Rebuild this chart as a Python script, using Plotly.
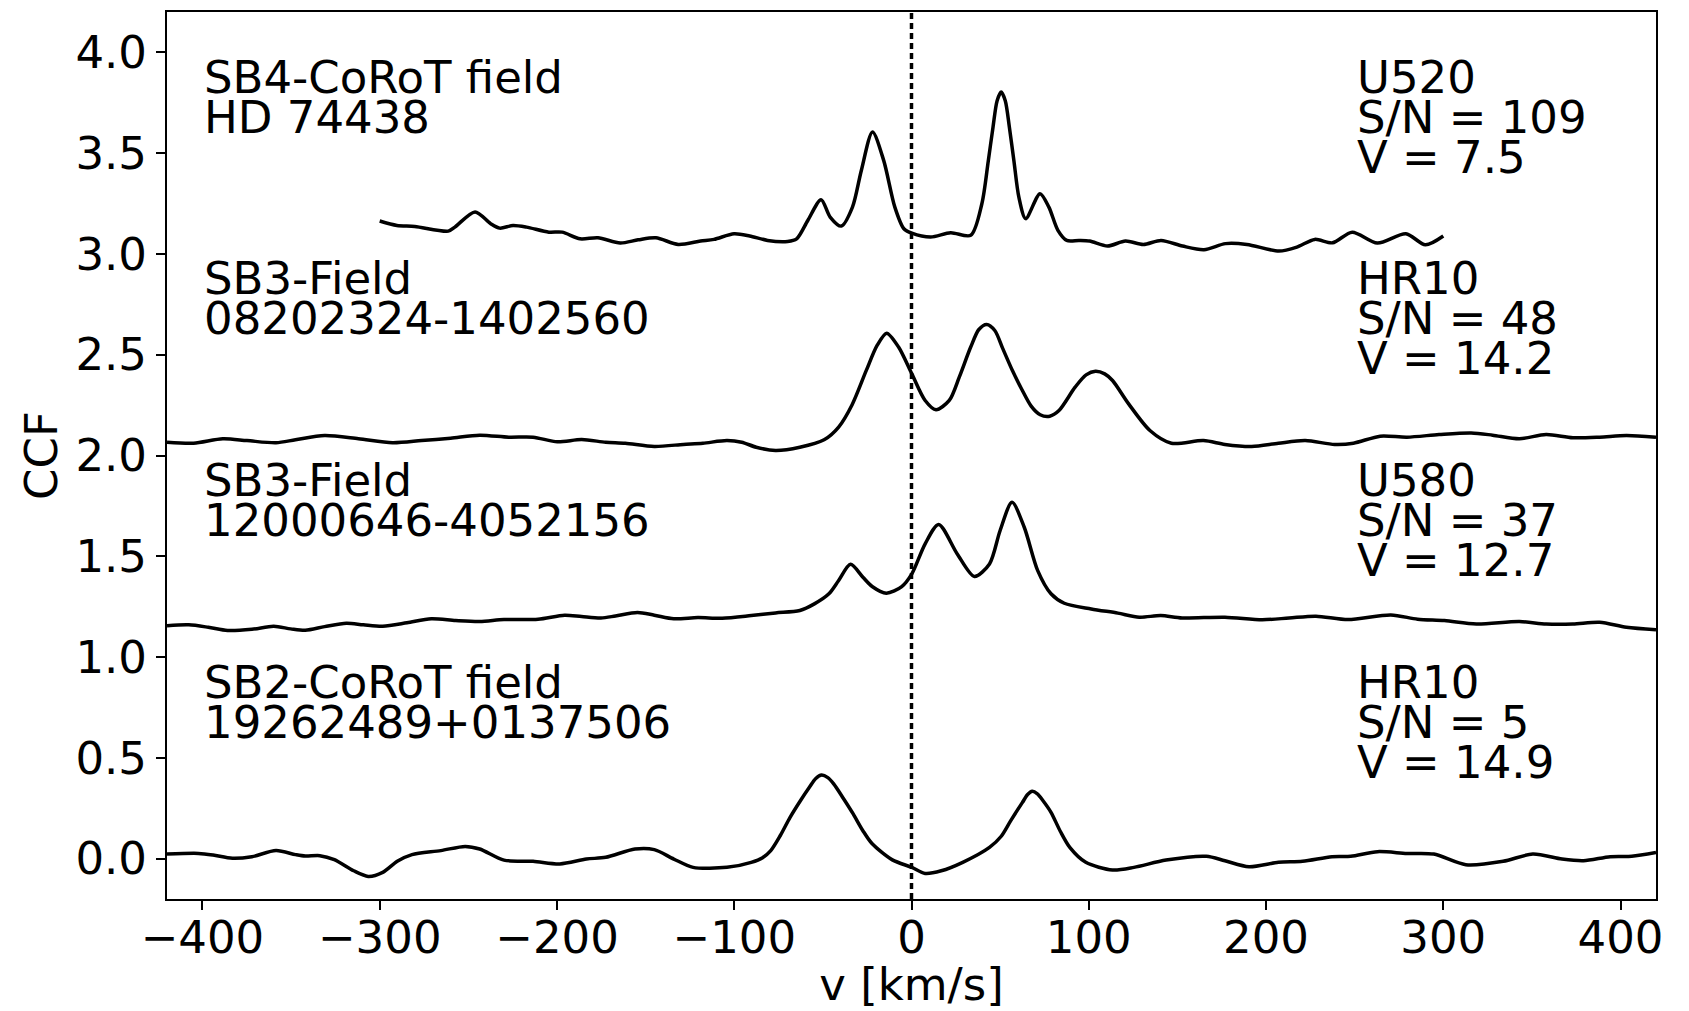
import plotly.graph_objects as go

# ---------------- data ----------------
v_sb4 = [-300, -290.3, -280.2, -261.3, -257.6, -246.2, -237.4, -232.3, -224.8, -217.2,
         -204.6, -197.1, -187, -176.9, -164.3, -154.2, -144.2, -131.6, -119, -111.4,
         -100.1, -91.3, -81.2, -69.9, -64.8, -58.5, -51, -45.9, -39.6, -33.3,
         -28.3, -22, -15.7, -9.4, -4.3, 0.2, 10.8, 22.1, 33.4, 39.7,
         43.3, 46, 48.3, 50.6, 52.9, 55.2, 57.8, 60.6, 64.4, 72.5, 77.5,
         82.6, 87.6, 94.5, 100.5, 110.6, 120.7, 130.8, 140.8, 152.9, 165,
         177.1, 189.2, 207.3, 217.4, 227.5, 237.5, 248.6, 262.8, 278.9, 289.9, 300]
ccf_sb4 = [3.163, 3.141, 3.136, 3.113, 3.133, 3.208, 3.150, 3.128, 3.141, 3.133,
           3.108, 3.108, 3.075, 3.080, 3.054, 3.070, 3.080, 3.047, 3.064, 3.072,
           3.100, 3.089, 3.067, 3.062, 3.075, 3.166, 3.269, 3.183, 3.138, 3.232,
           3.414, 3.605, 3.464, 3.232, 3.125, 3.103, 3.084, 3.105, 3.092, 3.249,
           3.460, 3.630, 3.760, 3.803, 3.760, 3.630, 3.460, 3.280, 3.175, 3.299, 3.232,
           3.117, 3.067, 3.067, 3.064, 3.039, 3.064, 3.047, 3.067, 3.039, 3.021,
           3.051, 3.047, 3.014, 3.034, 3.072, 3.055, 3.108, 3.054, 3.100, 3.045, 3.089]

v_sb3a = [-420, -405, -388.5, -374.9, -358.5, -347.5, -331.1, -312, -292.8, -276.4,
          -260, -243.6, -227.2, -213.5, -199.8, -186.1, -172.5, -161.5, -145.1, -128.7,
          -117.7, -104.1, -95.8, -87.6, -76.7, -63, -49.3, -41.1, -33.5, -25.5,
          -19.4, -14, -7.3, 0.2, 7.7, 13.8, 21.3, 27, 33.4, 38, 42.4, 47, 51.5,
          57, 62.1, 67.5, 72.6, 78, 83.2, 92.3, 98.5, 103.8, 109, 113.4, 122.5, 134.5, 146.6, 164.7,
          176.8, 191.9, 207, 222.1, 238.7, 249.3, 264.4, 279.5, 297.6, 315.7,
          327.8, 342.9, 358, 373.1, 388.2, 403.3, 420]
ccf_sb3a = [2.066, 2.061, 2.083, 2.074, 2.063, 2.078, 2.099, 2.083, 2.063, 2.074,
            2.086, 2.101, 2.091, 2.091, 2.068, 2.079, 2.066, 2.061, 2.045, 2.055,
            2.061, 2.074, 2.066, 2.041, 2.025, 2.041, 2.078, 2.141, 2.252, 2.422,
            2.546, 2.607, 2.538, 2.405, 2.273, 2.227, 2.273, 2.390, 2.538, 2.625, 2.650, 2.620, 2.530,
            2.420, 2.330, 2.245, 2.202, 2.195, 2.223, 2.339, 2.400, 2.418, 2.405, 2.372, 2.256, 2.124, 2.061, 2.074,
            2.055, 2.045, 2.061, 2.074, 2.055, 2.061, 2.096, 2.091, 2.104, 2.112,
            2.101, 2.083, 2.104, 2.088, 2.091, 2.099, 2.091]

v_sb3b = [-420, -407.7, -396.7, -385.8, -372.1, -359.8, -350.2, -342, -331.1, -318.8,
          -309.2, -298.3, -284.6, -270.9, -257.2, -243.6, -229.9, -210.7, -195.7, -186.1,
          -175.2, -167, -154.6, -145.1, -134.1, -120.5, -106.8, -90.4, -76.7, -63,
          -54.8, -46.6, -41.1, -34.4, -27.4, -22.2, -14.2, -5.5, 0.2, 7.7,
          15.3, 25.8, 35.5, 44, 50, 56.7, 63.6, 71.2, 78.7, 86.2,
          101.4, 116.4, 128.5, 140.6, 152.7, 176.8, 197.9, 213, 228.2, 246.3,
          270.4, 285.5, 300.6, 318.7, 342.9, 358, 373.1, 388.2, 403.3, 420]
ccf_sb3b = [1.156, 1.160, 1.148, 1.132, 1.138, 1.153, 1.140, 1.133, 1.151, 1.168,
            1.160, 1.153, 1.170, 1.190, 1.181, 1.176, 1.186, 1.188, 1.208, 1.201,
            1.194, 1.204, 1.221, 1.208, 1.190, 1.196, 1.193, 1.206, 1.219, 1.231,
            1.264, 1.314, 1.380, 1.460, 1.396, 1.350, 1.317, 1.350, 1.413, 1.562,
            1.658, 1.512, 1.400, 1.462, 1.628, 1.768, 1.644, 1.429, 1.314, 1.267,
            1.239, 1.218, 1.198, 1.206, 1.194, 1.198, 1.185, 1.194, 1.203, 1.186,
            1.209, 1.188, 1.181, 1.164, 1.176, 1.164, 1.164, 1.173, 1.148, 1.136]

v_sb2 = [-420, -402.2, -394, -383.1, -372.1, -358.5, -347.5, -342, -333.8, -325.6,
         -314.7, -306.5, -298.3, -290.1, -281.8, -265.5, -251.8, -243.6, -229.9, -213.5,
         -198.4, -183.4, -172.5, -156, -145.1, -134.1, -123.2, -104.1, -90.4, -84, -79.4,
         -74, -68.5, -62.5, -57.6, -54, -50.7, -47.2, -43.9, -38.5, -32.9, -27.5, -22.3, -10.8, 0.2, 7.7, 16.8,
         28.9, 44, 50.5, 56, 62.5, 65.5, 68.1, 71, 74, 78.7, 84, 89.3, 98.3, 113.4, 125.5, 143.6,
         166.3, 176.8, 190.4, 207, 220.6, 237.2, 247.8, 262.9, 279.5, 294.6,
         312.7, 333.8, 350.5, 367, 379.1, 394.2, 406.3, 420]
ccf_sb2 = [0.023, 0.026, 0.018, 0.002, 0.010, 0.040, 0.020, 0.013, 0.015, -0.005,
           -0.060, -0.088, -0.068, -0.013, 0.020, 0.040, 0.061, 0.048, -0.007, -0.013,
           -0.026, -0.002, 0.007, 0.048, 0.045, -0.002, -0.043, -0.043, -0.018, 0.005, 0.040,
           0.115, 0.205, 0.290, 0.354, 0.398, 0.415, 0.402, 0.371, 0.300, 0.222, 0.140, 0.075, -0.006, -0.043, -0.073, -0.060,
           -0.018, 0.056, 0.110, 0.189, 0.278, 0.318, 0.334, 0.322, 0.290, 0.230, 0.135, 0.056, -0.018, -0.056, -0.043, -0.007,
           0.012, -0.010, -0.040, -0.018, -0.013, 0.010, 0.012, 0.035, 0.026, 0.023,
           -0.030, -0.013, 0.023, -0.002, -0.010, 0.010, 0.012, 0.031]

left_labels = [["SB4-CoRoT field", "HD 74438"],
               ["SB3-Field", "08202324-1402560"],
               ["SB3-Field", "12000646-4052156"],
               ["SB2-CoRoT field", "19262489+0137506"]]
right_labels = [["U520", "S/N = 109", "V = 7.5"],
                ["HR10", "S/N = 48", "V = 14.2"],
                ["U580", "S/N = 37", "V = 12.7"],
                ["HR10", "S/N = 5", "V = 14.9"]]

x_ticks = [-400, -300, -200, -100, 0, 100, 200, 300, 400]
y_ticks = [0.0, 0.5, 1.0, 1.5, 2.0, 2.5, 3.0, 3.5, 4.0]

# ---------------- figure ----------------
FONT = "DejaVu Sans"
FS = 45

fig = go.Figure()
for vv, cc in [(v_sb4, ccf_sb4), (v_sb3a, ccf_sb3a), (v_sb3b, ccf_sb3b), (v_sb2, ccf_sb2)]:
    fig.add_trace(go.Scatter(x=vv, y=cc, mode="lines",
                             line=dict(color="black", width=3.5, shape="spline", smoothing=0.8),
                             showlegend=False, hoverinfo="skip"))

fig.add_shape(type="line", xref="x", yref="paper", x0=0, x1=0, y0=0, y1=1,
              line=dict(color="black", width=3.5, dash="6px,4px"), layer="above")

group_top = [3.876, 2.876, 1.876, 0.876]
line_step = 0.1985
for g in range(4):
    for j, t in enumerate(left_labels[g]):
        fig.add_annotation(x=-400, y=group_top[g] - j * line_step, xref="x", yref="y",
                           text=t, showarrow=False, xanchor="left", yanchor="middle",
                           font=dict(family=FONT, size=FS, color="black"))
    for j, t in enumerate(right_labels[g]):
        fig.add_annotation(x=250, y=group_top[g] - j * line_step, xref="x", yref="y",
                           text=t, showarrow=False, xanchor="left", yanchor="middle",
                           font=dict(family=FONT, size=FS, color="black"))

axis_common = dict(showgrid=False, zeroline=False, showline=True, linecolor="black",
                   linewidth=2, mirror=True, ticks="outside", ticklen=9, tickwidth=2,
                   tickcolor="black", tickfont=dict(family=FONT, size=FS, color="black"))

fig.update_xaxes(range=[-420, 420], tickvals=x_ticks,
                 ticktext=[("\u2212" + str(-t)) if t < 0 else str(t) for t in x_ticks],
                 ticklabelstandoff=-11,
                 title=dict(text="v [km/s]", font=dict(family=FONT, size=FS, color="black"), standoff=24),
                 **axis_common)
fig.update_yaxes(range=[-0.2, 4.2], tickvals=y_ticks, ticktext=[f"{t:.1f}" for t in y_ticks],
                 title=dict(text="CCF", font=dict(family=FONT, size=FS, color="black"), standoff=4),
                 **axis_common)

fig.update_layout(width=1689, height=1011, plot_bgcolor="white", paper_bgcolor="white",
                  margin=dict(l=167, r=33, t=12, b=112, autoexpand=False),
                  font=dict(family=FONT, size=FS, color="black"))

fig.write_html("out.html")
